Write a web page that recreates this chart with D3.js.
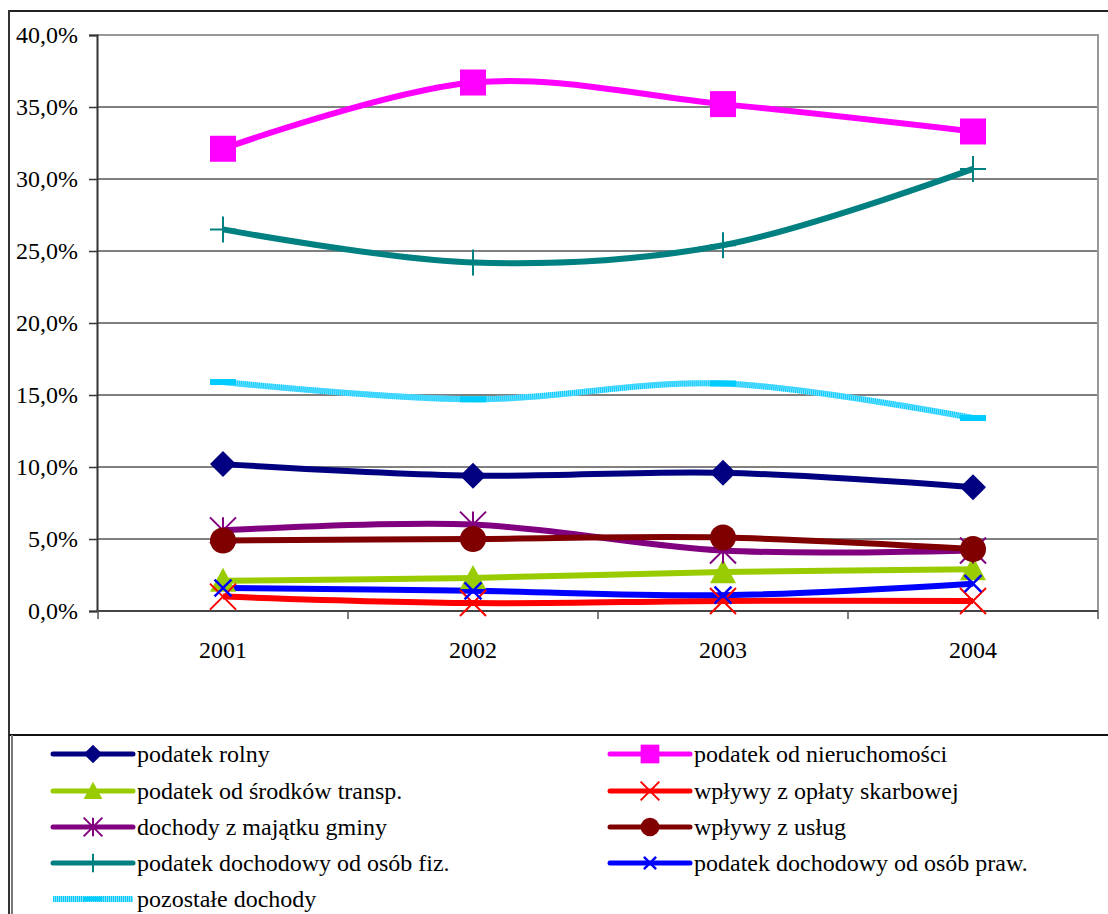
<!DOCTYPE html>
<html>
<head>
<meta charset="utf-8">
<script src="https://cdn.jsdelivr.net/npm/d3@7"></script>
</head>
<body>
<svg id="chart" width="1108" height="914"></svg>
<script>
// Years on the category axis
const years = ["2001", "2002", "2003", "2004"];

// Share of each revenue source in total revenue (%)
const podatekRolny        = [10.2, 9.4, 9.6, 8.6];
const podatekNieruch      = [32.1, 36.7, 35.2, 33.3];
const podatekTransp       = [2.1, 2.3, 2.7, 2.9];
const oplataSkarbowa      = [1.0, 0.55, 0.7, 0.7];
const majatekGminy        = [5.6, 6.0, 4.2, 4.2];
const wplywyUslug         = [4.9, 5.0, 5.1, 4.3];
const pitFizyczne         = [26.5, 24.2, 25.4, 30.7];
const citPrawne           = [1.6, 1.4, 1.1, 1.9];
const pozostaleDochody    = [15.9, 14.7, 15.8, 13.4];

// Y axis ticks
const yTicks = [0, 5, 10, 15, 20, 25, 30, 35, 40];

const FONT = "Liberation Serif";
const FONT_SIZE = 24;
const TEXT_STYLE = "font-family: 'Liberation Serif', serif !important; font-size: 24px !important;";

const series = [
  { name: "podatek rolny", values: podatekRolny, color: "#000080", marker: "diamond" },
  { name: "podatek od nieruchomości", values: podatekNieruch, color: "#FF00FF", marker: "square" },
  { name: "podatek od środków transp.", values: podatekTransp, color: "#99CC00", marker: "triangle" },
  { name: "wpływy z opłaty skarbowej", values: oplataSkarbowa, color: "#FF0000", marker: "x" },
  { name: "dochody z majątku gminy", values: majatekGminy, color: "#800080", marker: "star" },
  { name: "wpływy z usług", values: wplywyUslug, color: "#800000", marker: "circle" },
  { name: "podatek dochodowy od osób fiz.", values: pitFizyczne, color: "#008080", marker: "plus" },
  { name: "podatek dochodowy od osób praw.", values: citPrawne, color: "#0000FF", marker: "smallx" },
  { name: "pozostałe dochody", values: pozostaleDochody, color: "#00CCFF", marker: "dash" }
];

document.body.style.margin = "0";
const svg = d3.select("#chart").style("display", "block")
  .attr("font-family", FONT).attr("font-size", FONT_SIZE);

// Outer chart frame (top and left edges)
svg.append("line").attr("x1", 9).attr("x2", 1108).attr("y1", 11).attr("y2", 11)
  .attr("stroke", "#222").attr("stroke-width", 2);
svg.append("line").attr("x1", 9).attr("x2", 9).attr("y1", 10).attr("y2", 914)
  .attr("stroke", "#333").attr("stroke-width", 2);

const plot = { left: 97, right: 1098, top: 35, bottom: 611 };

const x = d3.scaleBand().domain(years).range([plot.left + 1, plot.right]).padding(0);
const y = d3.scaleLinear().domain([0, 40]).range([plot.bottom, plot.top]);
const cx = d => x(d) + x.bandwidth() / 2;

// Gridlines
svg.append("g").selectAll("line").data(yTicks.filter(t => t > 0 && t < 40)).join("line")
  .attr("x1", plot.left).attr("x2", plot.right)
  .attr("y1", d => y(d)).attr("y2", d => y(d))
  .attr("stroke", "#000").attr("stroke-width", 1);

// Plot area border (top and right)
svg.append("path")
  .attr("d", `M${plot.left},${y(40)}H${plot.right}V${plot.bottom}`)
  .attr("fill", "none").attr("stroke", "#999").attr("stroke-width", 2);

// Y axis
const yAxis = d3.axisLeft(y).tickValues(yTicks).tickSize(8).tickPadding(11)
  .tickFormat(d => d3.format(".1f")(d).replace(".", ",") + "%");
const gy = svg.append("g").attr("transform", `translate(${plot.left},0)`).call(yAxis);
gy.attr("font-family", FONT).attr("font-size", FONT_SIZE);
gy.select(".domain").attr("stroke", "#333").attr("stroke-width", 2);
gy.selectAll(".tick line").attr("stroke", "#333").attr("stroke-width", 1.5);
gy.selectAll(".tick text").attr("fill", "#000").attr("style", TEXT_STYLE);

// X axis
const xAxis = d3.axisBottom(x).tickSize(0).tickPadding(30);
const gx = svg.append("g").attr("transform", `translate(0,${plot.bottom})`).call(xAxis);
gx.attr("font-family", FONT).attr("font-size", FONT_SIZE);
gx.select(".domain").remove();
gx.selectAll(".tick text").attr("fill", "#000").attr("style", TEXT_STYLE);
svg.append("line").attr("x1", plot.left).attr("x2", plot.right)
  .attr("y1", plot.bottom).attr("y2", plot.bottom)
  .attr("stroke", "#444").attr("stroke-width", 2);
// category separators below the axis
const sepPositions = years.map(d => x(d)).concat([x(years[years.length - 1]) + x.bandwidth()]);
svg.append("g").selectAll("line").data(sepPositions).join("line")
  .attr("x1", d => d).attr("x2", d => d)
  .attr("y1", plot.bottom).attr("y2", plot.bottom + 8)
  .attr("stroke", "#555").attr("stroke-width", 1.5);

// Marker drawing
function drawMarker(g, type, color, px, py, scale) {
  const s = scale || 1;
  const h = 13 * s;
  switch (type) {
    case "diamond":
      g.append("path").attr("d", `M${px},${py - h}L${px + h},${py}L${px},${py + h}L${px - h},${py}Z`).attr("fill", color);
      break;
    case "square":
      g.append("rect").attr("x", px - h).attr("y", py - h).attr("width", 2 * h).attr("height", 2 * h).attr("fill", color);
      break;
    case "triangle":
      g.append("path").attr("d", `M${px},${py - h}L${px + h},${py + h * 0.85}L${px - h},${py + h * 0.85}Z`).attr("fill", color);
      break;
    case "circle":
      g.append("circle").attr("cx", px).attr("cy", py).attr("r", h).attr("fill", color);
      break;
    case "x":
      g.append("path").attr("d", `M${px - h},${py - h}L${px + h},${py + h}M${px + h},${py - h}L${px - h},${py + h}`)
        .attr("stroke", color).attr("stroke-width", 2);
      break;
    case "smallx": {
      const k = h * 0.65;
      g.append("path").attr("d", `M${px - k},${py - k}L${px + k},${py + k}M${px + k},${py - k}L${px - k},${py + k}`)
        .attr("stroke", color).attr("stroke-width", 2.5);
      break;
    }
    case "star":
      g.append("path").attr("d",
        `M${px - h},${py - h}L${px + h},${py + h}M${px + h},${py - h}L${px - h},${py + h}M${px},${py - h}L${px},${py + h}`)
        .attr("stroke", color).attr("stroke-width", 2);
      break;
    case "plus":
      g.append("path").attr("d", `M${px - h},${py}L${px + h},${py}M${px},${py - h}L${px},${py + h}`)
        .attr("stroke", color).attr("stroke-width", 2);
      break;
    case "dash":
      g.append("rect").attr("x", px - h).attr("y", py - 3 * s).attr("width", 2 * h).attr("height", 6 * s).attr("fill", color);
      break;
  }
}

// Smoothed series lines
const line = d3.line()
  .x((d, i) => cx(years[i]))
  .y(d => y(d))
  .curve(d3.curveCardinal.tension(0));

const linesG = svg.append("g");
series.forEach(s => {
  const g = linesG.append("g");
  if (s.marker === "dash") {
    g.append("path").attr("d", line(s.values)).attr("fill", "none")
      .attr("stroke", "#7FE0FF").attr("stroke-width", 6);
    g.append("path").attr("d", line(s.values)).attr("fill", "none")
      .attr("stroke", s.color).attr("stroke-width", 6).attr("stroke-dasharray", "1 1");
  } else {
    g.append("path").attr("d", line(s.values)).attr("fill", "none")
      .attr("stroke", s.color).attr("stroke-width", 6).attr("stroke-linejoin", "round");
  }
});
// markers on top of lines
series.forEach(s => {
  const g = linesG.append("g");
  s.values.forEach((v, i) => drawMarker(g, s.marker, s.color, cx(years[i]), y(v), 1));
});

// Legend box
const legTop = 735;
svg.append("line").attr("x1", 9).attr("x2", 1108).attr("y1", legTop).attr("y2", legTop)
  .attr("stroke", "#111").attr("stroke-width", 2);
svg.append("line").attr("x1", 12).attr("x2", 12).attr("y1", legTop).attr("y2", 914)
  .attr("stroke", "#777").attr("stroke-width", 2);

const colX = [53, 610];
const rowY = [754, 791, 827, 863, 899];
const legend = svg.append("g");
series.forEach((s, i) => {
  const col = i % 2, row = Math.floor(i / 2);
  const lx = colX[col], ly = rowY[row];
  const g = legend.append("g");
  if (s.marker === "dash") {
    g.append("line").attr("x1", lx).attr("x2", lx + 80).attr("y1", ly).attr("y2", ly)
      .attr("stroke", "#7FE0FF").attr("stroke-width", 6);
    g.append("line").attr("x1", lx).attr("x2", lx + 80).attr("y1", ly).attr("y2", ly)
      .attr("stroke", s.color).attr("stroke-width", 6).attr("stroke-dasharray", "1 1");
  } else {
    g.append("line").attr("x1", lx).attr("x2", lx + 80).attr("y1", ly).attr("y2", ly)
      .attr("stroke", s.color).attr("stroke-width", 5).attr("stroke-linecap", "round");
  }
  drawMarker(g, s.marker, s.color, lx + 40, ly, 0.72);
  g.append("text").attr("x", lx + 84).attr("y", ly + 8)
    .attr("font-family", FONT).attr("font-size", FONT_SIZE).attr("fill", "#000")
    .attr("style", TEXT_STYLE).text(s.name);
});
</script>
</body>
</html>
